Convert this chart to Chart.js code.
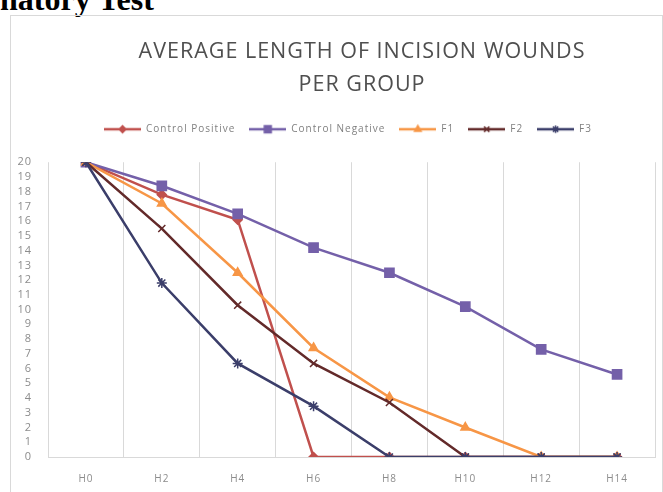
<!DOCTYPE html>
<html>
<head>
<meta charset="utf-8">
<script src="https://cdn.jsdelivr.net/npm/chart.js@4.4.1/dist/chart.umd.min.js"></script>
<style>
  body { margin: 0; background: #fff; }
  #wrap { position: relative; width: 663px; height: 492px; overflow: hidden; }
  #heading { position: absolute; left: 0; top: -16px; font: bold 32px/31px "Liberation Serif", serif; color: #000; white-space: nowrap; }
  #box { position: absolute; left: 10px; top: 15px; width: 651px; height: 490px; border: 1px solid #d9d9d9; }
  #woundChart { position: absolute; left: 0; top: 0; }
</style>
</head>
<body>
<div id="wrap">
  <div id="heading">natory Test</div>
  <div id="box"></div>
  <canvas id="woundChart" width="663" height="492"></canvas>
</div>
<script>
// Hours of observation
const hours = ['H0', 'H2', 'H4', 'H6', 'H8', 'H10', 'H12', 'H14'];

// Average wound length per group
const controlPositive = [20, 17.8, 16.1, 0, 0, 0, 0, 0];
const controlNegative = [20, 18.4, 16.5, 14.2, 12.5, 10.2, 7.3, 5.6];
const f1 = [20, 17.2, 12.5, 7.4, 4.05, 2.0, 0, 0];
const f2 = [20, 15.5, 10.3, 6.35, 3.7, 0, 0, 0];
const f3 = [20, 11.8, 6.35, 3.45, 0, 0, 0, 0];

const seriesNames = ['Control Positive', 'Control Negative', 'F1', 'F2', 'F3'];
const seriesValues = [controlPositive, controlNegative, f1, f2, f3];
const seriesColors = ['#c0504d', '#7460a9', '#f79646', '#632a2a', '#3b3e6a'];
const seriesMarkers = ['rectRot', 'rect', 'triangle', 'crossRot', 'star'];
const markerSizes = [4.5, 6.5, 5, 5, 5];

// little line + marker picture for the legend, like Excel does
function makeLegendIcon(color, marker, size) {
    const c = document.createElement('canvas');
    c.width = 37;
    c.height = 12;
    const ctx = c.getContext('2d');
    ctx.strokeStyle = color;
    ctx.fillStyle = color;
    ctx.lineWidth = 2.5;
    ctx.beginPath();
    ctx.moveTo(0, 6);
    ctx.lineTo(37, 6);
    ctx.stroke();
    ctx.lineWidth = 1.5;
    Chart.helpers.drawPoint(ctx, { pointStyle: marker, radius: size * 0.75, borderWidth: 1.5, rotation: 0 }, 18.5, 6);
    return c;
}

// letter spacing + a few layout nudges (title/legend off-centre, gap under legend)
const tweaks = {
    id: 'tweaks',
    beforeUpdate(chart) {
        chart.ctx.letterSpacing = '1px';
        if (chart.legend && !chart.legend._patched) {
            const fit = chart.legend.fit;
            chart.legend.fit = function () {
                fit.call(this);
                this.height += 18;
            };
            chart.legend._patched = true;
        }
    },
    afterLayout(chart) {
        chart.titleBlock.left += 56;
        chart.legend.left += 14;
        chart.legend.right += 14;
        if (chart.legend.legendHitBoxes) {
            chart.legend.legendHitBoxes.forEach(b => { b.left += 14; });
        }
    },
    beforeDraw(chart) { chart.ctx.letterSpacing = '1px'; }
};

const ctx = document.getElementById('woundChart').getContext('2d');
const woundChart = new Chart(ctx, {
    type: 'line',
    data: {
        labels: hours,
        datasets: seriesNames.map((name, i) => ({
            label: name,
            data: seriesValues[i],
            borderColor: seriesColors[i],
            backgroundColor: seriesColors[i],
            borderWidth: 2.5,
            pointStyle: seriesMarkers[i],
            pointRadius: markerSizes[i],
            pointBorderWidth: 1.5,
            tension: 0,
            order: seriesNames.length - i
        }))
    },
    options: {
        responsive: false,
        animation: false,
        devicePixelRatio: 1,
        layout: { padding: { left: 10, right: 5, top: 15, bottom: 0 } },
        plugins: {
            tooltip: { enabled: false },
            title: {
                display: true,
                text: ['AVERAGE LENGTH OF INCISION WOUNDS', 'PER GROUP'],
                color: '#4f4f4f',
                font: { family: 'Open Sans', size: 21.5, weight: 'normal', lineHeight: 1.54 },
                padding: { top: 20, bottom: 9 }
            },
            legend: {
                display: true,
                labels: {
                    color: '#808080',
                    font: { family: 'Open Sans', size: 10 },
                    usePointStyle: true,
                    pointStyleWidth: 37,
                    padding: 14,
                    generateLabels: chart => seriesNames.map((name, i) => ({
                        text: name,
                        datasetIndex: i,
                        pointStyle: makeLegendIcon(seriesColors[i], seriesMarkers[i], markerSizes[i]),
                        fontColor: '#808080',
                        strokeStyle: seriesColors[i],
                        fillStyle: seriesColors[i],
                        lineWidth: 0
                    }))
                }
            }
        },
        scales: {
            x: {
                offset: true,
                grid: { offset: true, color: '#d9d9d9', drawTicks: false },
                border: { color: '#d9d9d9' },
                ticks: { color: '#8c8c8c', font: { family: 'Open Sans', size: 10 }, padding: 16 },
                afterFit: scale => { scale.height = 35; }
            },
            y: {
                min: 0,
                max: 20,
                grid: { display: false },
                border: { display: false },
                ticks: {
                    stepSize: 1,
                    autoSkip: false,
                    color: '#8c8c8c',
                    font: { family: 'Open Sans', size: 11 },
                    padding: 8
                },
                afterFit: scale => { scale.width = 38; }
            }
        }
    },
    plugins: [tweaks]
});
</script>
</body>
</html>
